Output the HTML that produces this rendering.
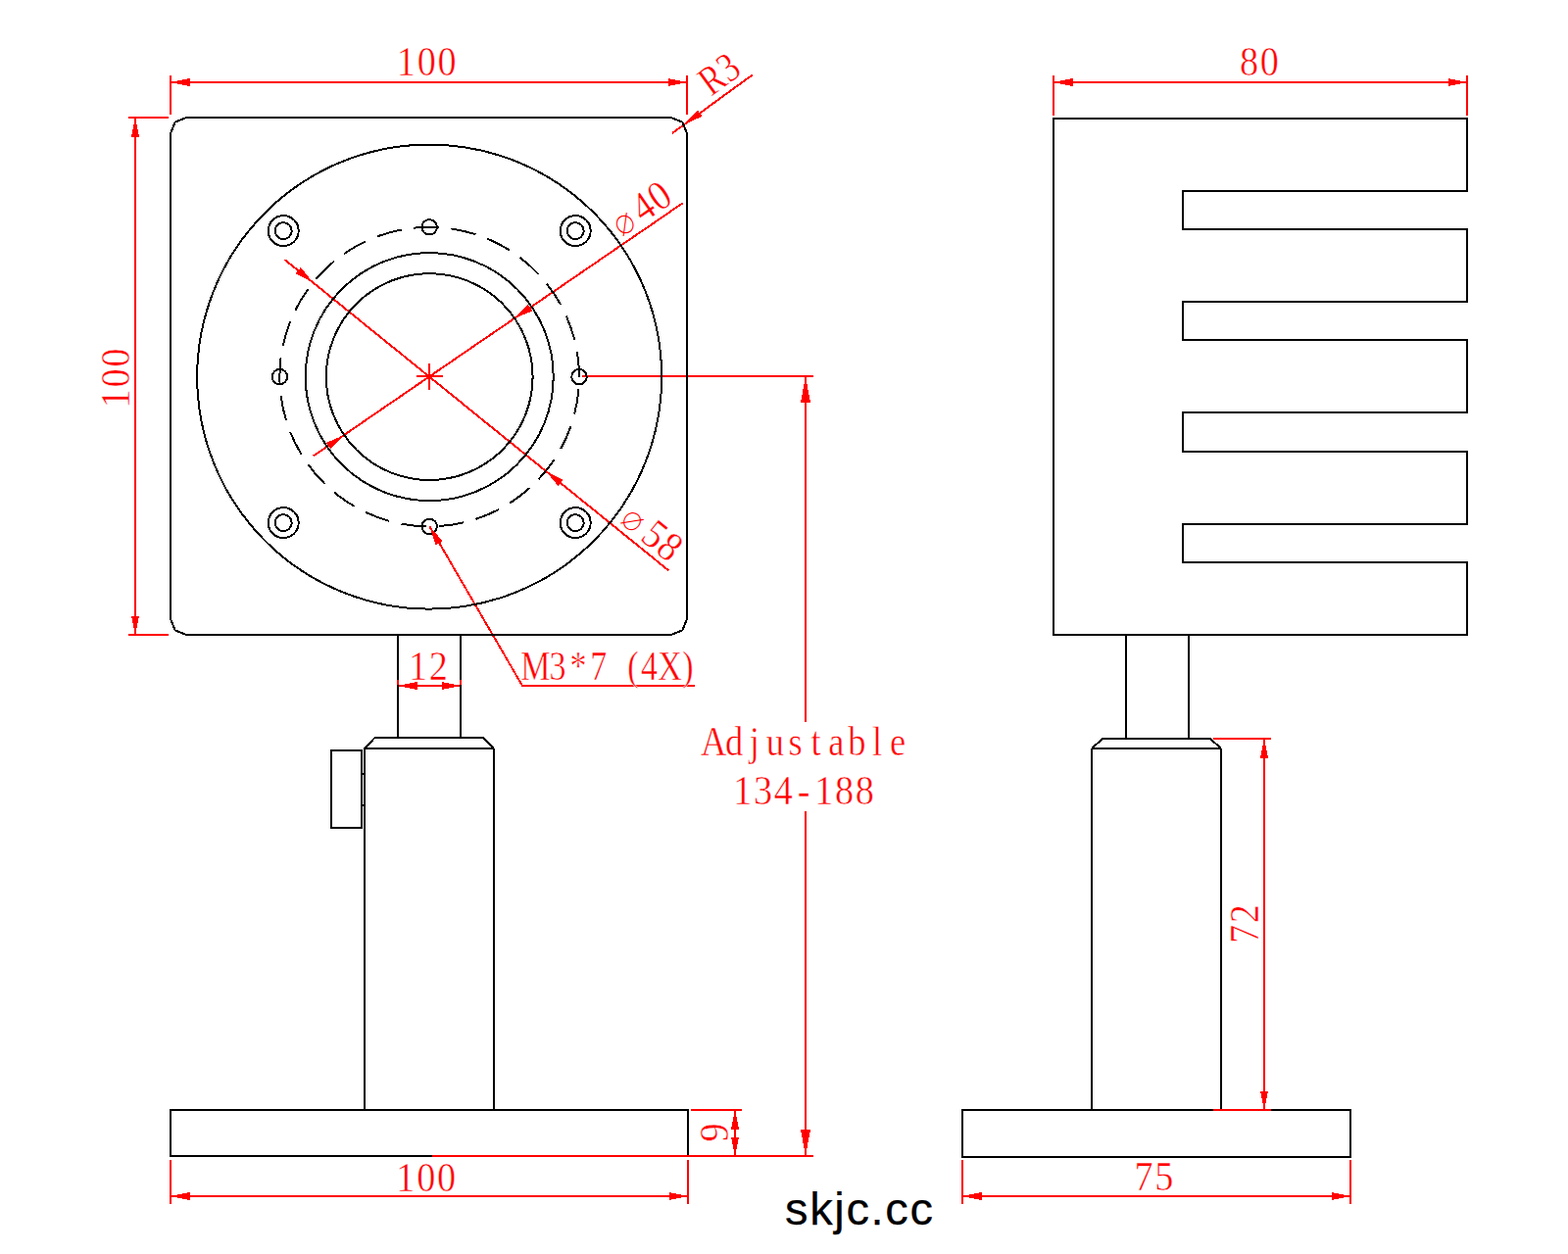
<!DOCTYPE html>
<html lang="en"><head><meta charset="utf-8"><title>skjc.cc drawing</title>
<style>html,body{margin:0;padding:0;background:#fff;}body{width:1600px;height:1280px;overflow:hidden;}svg{display:block;}.d text{font-family:"Liberation Serif","DejaVu Sans",serif;font-size:42.5px;fill:#f00;text-anchor:middle;stroke:#fff;stroke-width:.5px;paint-order:fill stroke;}.d .o{font-size:39px;stroke-width:1.3px;}.w{font-family:"Liberation Sans",sans-serif;font-size:47px;fill:#000;letter-spacing:1.65px;stroke:#000;stroke-width:.25px;}</style></head><body>
<svg width="1600" height="1280" viewBox="0 0 1600 1280">
<rect width="1600" height="1280" fill="#fff"/>
<g stroke="#f00" stroke-width="2" fill="none" shape-rendering="crispEdges">
<line x1="174" y1="77" x2="174" y2="117"/>
<line x1="701" y1="77" x2="701" y2="117"/>
<line x1="174" y1="84" x2="701" y2="84"/>
<line x1="131" y1="120" x2="172" y2="120"/>
<line x1="131" y1="648" x2="172" y2="648"/>
<line x1="138" y1="120" x2="138" y2="648"/>
<line x1="767.75" y1="76.4" x2="686" y2="136"/>
<line x1="696.8" y1="207.25" x2="320" y2="465.3"/>
<line x1="290.5" y1="265" x2="682.5" y2="582.5"/>
<line x1="425" y1="384" x2="452" y2="384"/>
<line x1="438" y1="371" x2="438" y2="398"/>
<path d="M438.5,537.5 L533,700 H709"/>
<line x1="406" y1="700" x2="470" y2="700"/>
<line x1="594" y1="384" x2="830" y2="384"/>
<line x1="441" y1="1180" x2="830" y2="1180"/>
<line x1="822" y1="384" x2="822" y2="737"/>
<line x1="822" y1="828" x2="822" y2="1180"/>
<line x1="705" y1="1133" x2="757" y2="1133"/>
<line x1="750" y1="1133" x2="750" y2="1180"/>
<line x1="174" y1="1184" x2="174" y2="1229"/>
<line x1="702" y1="1184" x2="702" y2="1229"/>
<line x1="174" y1="1221" x2="702" y2="1221"/>
<line x1="1075" y1="77" x2="1075" y2="118"/>
<line x1="1497" y1="77" x2="1497" y2="118"/>
<line x1="1075" y1="84" x2="1497" y2="84"/>
<line x1="1238" y1="754" x2="1297" y2="754"/>
<line x1="1238" y1="1133" x2="1297" y2="1133"/>
<line x1="1290" y1="754" x2="1290" y2="1133"/>
<line x1="982" y1="1184" x2="982" y2="1229"/>
<line x1="1378" y1="1184" x2="1378" y2="1229"/>
<line x1="982" y1="1221" x2="1378" y2="1221"/>
</g>
<g stroke="#000" stroke-width="2" fill="none" shape-rendering="crispEdges">
<path d="M685,120 L696.31,124.69 L701,136 L701,632 L696.31,643.31 L685,648 L190,648 L178.69,643.31 L174,632 L174,136 L178.69,124.69 L190,120 Z"/>
<circle cx="438.2" cy="384.6" r="237"/>
<circle cx="438.2" cy="384.6" r="126.5"/>
<circle cx="438.2" cy="384.6" r="105.4"/>
<circle cx="438.2" cy="384.6" r="152.8" pathLength="75" stroke-dasharray="2 1" stroke-dashoffset="2"/>
<circle cx="289.2" cy="235.60000000000002" r="15.5"/>
<circle cx="289.2" cy="235.60000000000002" r="8.5"/>
<circle cx="289.2" cy="533.6" r="15.5"/>
<circle cx="289.2" cy="533.6" r="8.5"/>
<circle cx="587.2" cy="235.60000000000002" r="15.5"/>
<circle cx="587.2" cy="235.60000000000002" r="8.5"/>
<circle cx="587.2" cy="533.6" r="15.5"/>
<circle cx="587.2" cy="533.6" r="8.5"/>
<circle cx="438.2" cy="231.8" r="7.7"/>
<circle cx="438.2" cy="537.4000000000001" r="7.7"/>
<circle cx="285.4" cy="384.6" r="7.7"/>
<circle cx="591.0" cy="384.6" r="7.7"/>
<line x1="406" y1="648" x2="406" y2="753"/>
<line x1="470" y1="648" x2="470" y2="753"/>
<path d="M372,764 L382.5,753 H493 L504,764 M372,764 H504 M372,764 V1133 M504,764 V1133"/>
<rect x="338" y="766" width="31" height="79"/>
<line x1="369" y1="790" x2="372" y2="790"/>
<line x1="369" y1="822" x2="372" y2="822"/>
<rect x="174" y="1133" width="528" height="47"/>
<path d="M1075,121 H1497 V195 H1207 V234 H1497 V308 H1207 V347 H1497 V421 H1207 V461 H1497 V535 H1207 V574 H1497 V648 H1075 Z"/>
<line x1="1149" y1="648" x2="1149" y2="754"/>
<line x1="1213" y1="648" x2="1213" y2="754"/>
<path d="M1114,764 L1125,754 H1235 L1246,764 M1114,764 H1246 M1114,764 V1133 M1246,764 V1133"/>
<rect x="982" y="1133" width="396" height="48"/>
</g>
<g stroke="#f00" stroke-width="2" fill="none" shape-rendering="crispEdges">
<line x1="406" y1="693.5" x2="406" y2="698.5"/>
<line x1="470" y1="693.5" x2="470" y2="698.5"/>
<line x1="441" y1="1180" x2="703" y2="1180"/>
<line x1="1238" y1="1133" x2="1297" y2="1133"/>
</g>
<g fill="#f00" stroke="none" shape-rendering="crispEdges">
<polygon points="174.0,84.0 193.5,88.0 193.5,80.0"/>
<polygon points="701.0,84.0 681.5,80.0 681.5,88.0"/>
<polygon points="138.0,120.0 134.0,139.5 142.0,139.5"/>
<polygon points="138.0,648.0 142.0,628.5 134.0,628.5"/>
<polygon points="174.0,1221.0 193.5,1225.0 193.5,1217.0"/>
<polygon points="702.0,1221.0 682.5,1217.0 682.5,1225.0"/>
<polygon points="1075.0,84.0 1094.5,88.0 1094.5,80.0"/>
<polygon points="1497.0,84.0 1477.5,80.0 1477.5,88.0"/>
<polygon points="982.0,1221.0 1001.5,1225.0 1001.5,1217.0"/>
<polygon points="1378.0,1221.0 1358.5,1217.0 1358.5,1225.0"/>
<polygon points="1290.0,754.0 1286.0,773.5 1294.0,773.5"/>
<polygon points="1290.0,1133.0 1294.0,1113.5 1286.0,1113.5"/>
<polygon points="406.0,700.0 425.5,704.0 425.5,696.0"/>
<polygon points="470.0,700.0 450.5,696.0 450.5,704.0"/>
<polygon points="750.0,1133.0 746.0,1152.5 754.0,1152.5"/>
<polygon points="750.0,1180.0 754.0,1160.5 746.0,1160.5"/>
<polygon points="822.0,384.0 817.0,411.0 827.0,411.0"/>
<polygon points="822.0,1180.0 827.0,1153.0 817.0,1153.0"/>
<polygon points="698.4,127.0 716.5,118.7 711.8,112.3"/>
<polygon points="525.1,325.0 543.5,317.3 538.9,310.7"/>
<polygon points="351.3,444.2 332.9,451.9 337.5,458.5"/>
<polygon points="556.9,480.8 569.6,496.2 574.6,489.9"/>
<polygon points="319.5,288.4 306.8,273.0 301.8,279.3"/>
<polygon points="438.5,537.5 444.8,556.4 451.8,552.3"/>
</g>
<g class="d">
<text transform="translate(435.2 77.4) scale(0.9 1)" x="-23.22 0 23.22" y="0">100</text>
<text transform="translate(131.5 386) rotate(-90) scale(0.9 1)" x="-23.22 0 23.22" y="0">100</text>
<text transform="translate(434.8 1215.5) scale(0.9 1)" x="-23.22 0 23.22" y="0">100</text>
<text transform="translate(437 694.3) scale(0.9 1)" x="-11.61 11.61" y="0">12</text>
<text transform="translate(1285 77) scale(0.9 1)" x="-11.61 11.61" y="0">80</text>
<text transform="translate(1177.5 1215) scale(0.9 1)" x="-11.61 11.61" y="0">75</text>
<text transform="translate(1284 943) rotate(-90) scale(0.9 1)" x="-11.61 11.61" y="0">72</text>
<text transform="translate(743 1156) rotate(-90) scale(0.9 1)" x="0" y="0">9</text>
<text transform="translate(742.54 86.38) rotate(-36.12) scale(0.82 1)" x="-11.71 13.29" y="0">R3</text>
<text transform="translate(662.53 223.72) rotate(-34.44) scale(0.9 1)" x="-26.11 2.22 24.44" y="0"><tspan class="o">⌀</tspan>40</text>
<text transform="translate(657.09 554.45) rotate(39.01) scale(0.9 1)" x="-26.11 3.33 25.56" y="0"><tspan class="o">⌀</tspan>58</text>
<text transform="translate(0 694) scale(0.8 1)" x="683.12 711.12 737.5 763.38 785 807.5 828.12 854.5 877.25" y="0">M3*7 (4X)</text>
<text transform="translate(822.1 771.3) scale(0.86 1)" x="-109.2 -84.94 -60.67 -36.4 -12.13 12.13 36.4 60.67 84.94 109.2" y="0">Adjustable</text>
<text transform="translate(820 820.8) scale(0.9 1)" x="-69.17 -46.11 -23.06 0 23.06 46.11 69.17" y="0">134-188</text>
</g>
<text class="w" x="801" y="1250.3">skjc.cc</text>
</svg></body></html>
